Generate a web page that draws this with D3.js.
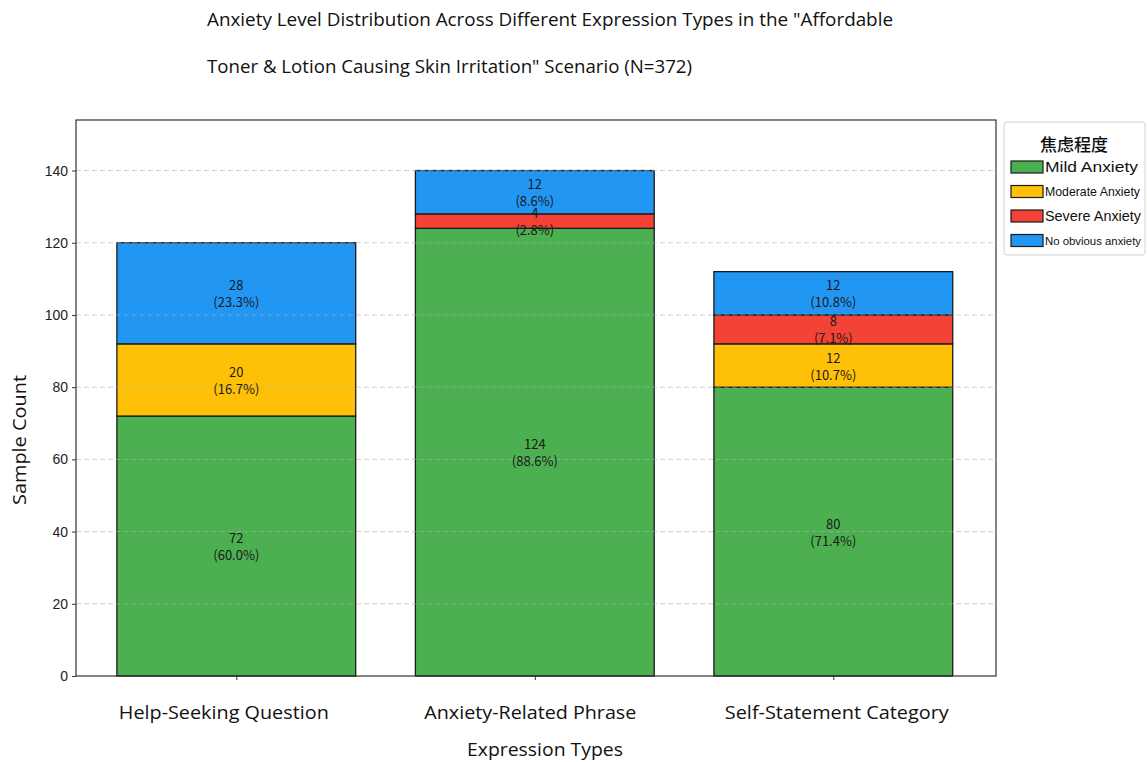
<!DOCTYPE html>
<html>
<head>
<meta charset="utf-8">
<script src="https://cdn.jsdelivr.net/npm/d3@7"></script>
<style>
  html, body { margin: 0; padding: 0; background: #fff; }
  svg { display: block; }
</style>
</head>
<body>
<svg id="chart" width="1147" height="762"></svg>
<script>
// Expression types (x categories)
const categories = ["Help-Seeking Question", "Anxiety-Related Phrase", "Self-Statement Category"];

// Anxiety levels, stacked bottom to top
const levels = ["Mild Anxiety", "Moderate Anxiety", "Severe Anxiety", "No obvious anxiety"];
const levelColors = ["#4caf50", "#ffc107", "#f44336", "#2196f3"];

// Sample counts per level, one value per category
const mildCounts     = [72, 124, 80];
const moderateCounts = [20, 0, 12];
const severeCounts   = [0, 4, 8];
const noneCounts     = [28, 12, 12];

// Percentage labels as printed on each segment
const mildPct     = ["60.0%", "88.6%", "71.4%"];
const moderatePct = ["16.7%", "", "10.7%"];
const severePct   = ["", "2.8%", "7.1%"];
const nonePct     = ["23.3%", "8.6%", "10.8%"];

const yTicks = [0, 20, 40, 60, 80, 100, 120, 140];
const titleLines = [
  "Anxiety Level Distribution Across Different Expression Types in the \"Affordable",
  "Toner & Lotion Causing Skin Irritation\" Scenario (N=372)"
];
const legendTitle = "焦虑程度";

const countsByLevel = [mildCounts, moderateCounts, severeCounts, noneCounts];
const pctByLevel = [mildPct, moderatePct, severePct, nonePct];

const svg = d3.select("#chart");
const plot = { left: 76, right: 996, top: 120, bottom: 676 };

const x = d3.scaleLinear().domain([-0.537, 2.545]).range([plot.left, plot.right]);
const y = d3.scaleLinear().domain([0, 154]).range([plot.bottom, plot.top]);
const barWidth = 0.8;

// Build stacked segments
const segments = [];
categories.forEach((cat, i) => {
  let base = 0;
  levels.forEach((lv, k) => {
    const v = countsByLevel[k][i];
    if (v > 0) {
      segments.push({ i, k, y0: base, y1: base + v, v, pct: pctByLevel[k][i] });
    }
    base += v;
  });
});

// Bars
svg.append("g").selectAll("rect").data(segments).join("rect")
  .attr("x", d => x(d.i - barWidth / 2))
  .attr("width", d => x(d.i + barWidth / 2) - x(d.i - barWidth / 2))
  .attr("y", d => y(d.y1))
  .attr("height", d => y(d.y0) - y(d.y1))
  .attr("fill", d => levelColors[d.k])
  .attr("stroke", "#1a1a1a")
  .attr("stroke-width", 1.3);

// Horizontal dashed grid (drawn over bars)
svg.append("g").selectAll("line").data(yTicks.filter(t => t > 0)).join("line")
  .attr("x1", plot.left).attr("x2", plot.right)
  .attr("y1", d => y(d)).attr("y2", d => y(d))
  .attr("stroke", "#b0b0b0")
  .attr("stroke-opacity", 0.6)
  .attr("stroke-width", 1)
  .attr("stroke-dasharray", "5,3");

// Segment value labels
const lab = svg.append("g")
  .attr("font-family", "'Noto Sans CJK SC', 'DejaVu Sans', sans-serif")
  .attr("font-size", 13)
  .attr("fill", "#1a1a1a")
  .attr("text-anchor", "middle");
segments.forEach(d => {
  const cx = x(d.i);
  const cy = y((d.y0 + d.y1) / 2);
  lab.append("text").attr("x", cx).attr("y", cy - 3).text(d.v);
  lab.append("text").attr("x", cx).attr("y", cy + 14).text("(" + d.pct + ")");
});

// Frame
svg.append("rect")
  .attr("x", plot.left).attr("y", plot.top)
  .attr("width", plot.right - plot.left).attr("height", plot.bottom - plot.top)
  .attr("fill", "none").attr("stroke", "#333").attr("stroke-width", 1.2);

// Y axis
const yAxis = svg.append("g")
  .attr("transform", `translate(${plot.left},0)`)
  .call(d3.axisLeft(y).tickValues(yTicks).tickSize(4).tickPadding(4));
yAxis.select(".domain").remove();
yAxis.selectAll("line").attr("stroke", "#333");
yAxis.selectAll("text")
  .attr("font-family", "'Liberation Sans', Arial, sans-serif")
  .attr("font-size", 14).attr("fill", "#222");

// X axis
const xLabelWidths = [210, 212, 224];
const xAxis = svg.append("g")
  .attr("transform", `translate(0,${plot.bottom})`)
  .call(d3.axisBottom(x).tickValues([0, 1, 2]).tickSize(4).tickPadding(26)
    .tickFormat(i => categories[i]));
xAxis.select(".domain").remove();
xAxis.selectAll("line").attr("stroke", "#333");
xAxis.selectAll("text")
  .attr("font-family", "'Open Sans', sans-serif")
  .attr("font-size", 19).attr("fill", "#111")
  .attr("textLength", (d, i) => xLabelWidths[i])
  .attr("lengthAdjust", "spacingAndGlyphs")
  .attr("dx", (d, i) => [-13, -5, 3][i]);

// Axis titles
svg.append("text")
  .attr("x", 545).attr("y", 756)
  .attr("text-anchor", "middle")
  .attr("font-family", "'Open Sans', sans-serif")
  .attr("font-size", 19).attr("fill", "#111")
  .attr("textLength", 156).attr("lengthAdjust", "spacingAndGlyphs")
  .text("Expression Types");

svg.append("text")
  .attr("transform", "translate(26,440) rotate(-90)")
  .attr("text-anchor", "middle")
  .attr("font-family", "'Open Sans', sans-serif")
  .attr("font-size", 19).attr("fill", "#111")
  .attr("textLength", 130).attr("lengthAdjust", "spacingAndGlyphs")
  .text("Sample Count");

// Title
const titleWidths = [686, 485];
svg.append("g").selectAll("text").data(titleLines).join("text")
  .attr("x", 207)
  .attr("y", (d, i) => 26 + i * 47)
  .attr("font-family", "'Open Sans', sans-serif")
  .attr("font-size", 18).attr("fill", "#111")
  .attr("textLength", (d, i) => titleWidths[i])
  .attr("lengthAdjust", "spacingAndGlyphs")
  .text(d => d);

// Legend
const lg = svg.append("g");
lg.append("rect")
  .attr("x", 1004).attr("y", 122).attr("width", 141).attr("height", 133)
  .attr("rx", 3).attr("fill", "#fff").attr("stroke", "#d0d0d0");
lg.append("text")
  .attr("x", 1074).attr("y", 151).attr("text-anchor", "middle")
  .attr("font-family", "'Noto Sans CJK SC', sans-serif")
  .attr("font-size", 17).attr("font-weight", 500).attr("fill", "#111")
  .text(legendTitle);
const legendFont = [14, 12, 14, 11];
const legendEnds = [1138, 1140, 1141, 1141];
levels.forEach((lv, k) => {
  const cy = 167 + k * 24.5;
  lg.append("rect")
    .attr("x", 1011).attr("y", cy - 6).attr("width", 32).attr("height", 12)
    .attr("fill", levelColors[k]).attr("stroke", "#1a1a1a").attr("stroke-width", 1.2);
  lg.append("text")
    .attr("x", 1045).attr("y", cy + 4.5)
    .attr("font-family", "'Liberation Sans', Arial, sans-serif")
    .attr("font-size", legendFont[k]).attr("fill", "#111")
    .attr("textLength", legendEnds[k] - 1045)
    .attr("lengthAdjust", "spacingAndGlyphs")
    .text(lv);
});
</script>
</body>
</html>
